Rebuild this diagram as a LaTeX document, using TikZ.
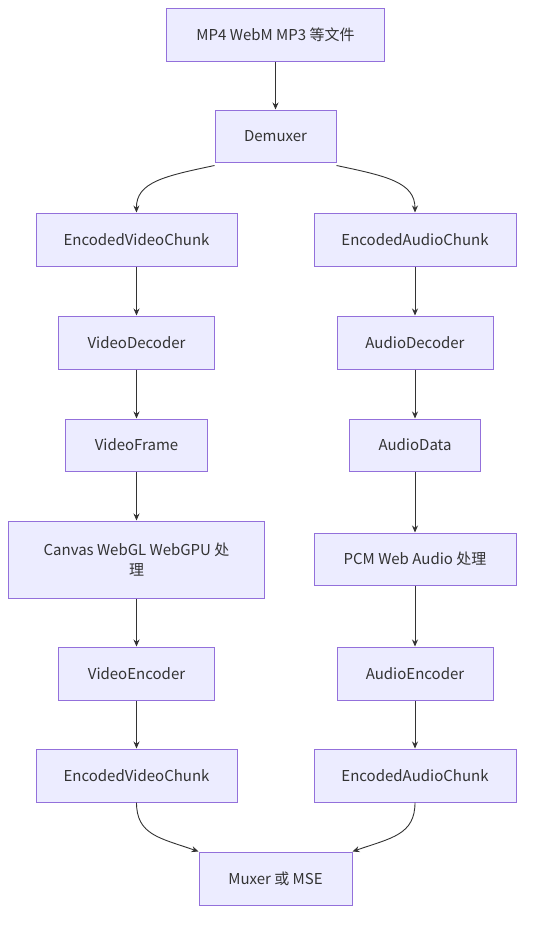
\documentclass[tikz,border=0pt]{standalone}
\usepackage{fontspec}
\setmainfont{Noto Sans CJK SC}
\usetikzlibrary{arrows.meta}
\definecolor{boxfill}{HTML}{ECECFF}
\definecolor{boxline}{HTML}{9370DB}
\definecolor{txt}{HTML}{333333}
\begin{document}
\begin{tikzpicture}[x=1pt,y=-1pt,
  box/.style={draw=boxline,fill=boxfill,line width=1pt,minimum height=53pt,inner sep=0pt,
    text=txt,font=\fontsize{15}{20}\selectfont,align=center},
  conn/.style={draw=txt,line width=0.9pt,-{Stealth[length=7pt,width=6pt]}}]
\useasboundingbox (0,0) rectangle (533,926);
\node[box,minimum width=218pt] (src) at (275.5,34.5) {MP4 WebM MP3 等文件};
\node[box,minimum width=121pt,minimum height=52pt] (dem) at (275.5,136) {Demuxer};
\node[box,minimum width=201pt] (evc1) at (136.5,239.5) {EncodedVideoChunk};
\node[box,minimum width=202pt] (eac1) at (415,239.5) {EncodedAudioChunk};
\node[box,minimum width=156pt] (vdec) at (136.5,342.5) {VideoDecoder};
\node[box,minimum width=156pt] (adec) at (415,342.5) {AudioDecoder};
\node[box,minimum width=142pt,minimum height=52pt] (vf) at (136.5,445) {VideoFrame};
\node[box,minimum width=131pt,minimum height=52pt] (ad) at (415,445) {AudioData};
\node[box,minimum width=256pt,minimum height=77pt] (cv) at (136.5,559.5) {Canvas WebGL WebGPU 处\\理};
\node[box,minimum width=202pt,minimum height=52pt] (pcm) at (415,559) {PCM Web Audio 处理};
\node[box,minimum width=156pt] (venc) at (136.5,673.5) {VideoEncoder};
\node[box,minimum width=156pt] (aenc) at (415,673.5) {AudioEncoder};
\node[box,minimum width=201pt] (evc2) at (136.5,775.5) {EncodedVideoChunk};
\node[box,minimum width=202pt] (eac2) at (415,775.5) {EncodedAudioChunk};
\node[box,minimum width=153pt] (mux) at (275.5,878.5) {Muxer 或 MSE};

\draw[conn] (src) -- (dem);
\draw[conn] ([yshift=-3pt]dem.south west) .. controls (165,176) and (136,182) .. (evc1.north);
\draw[conn] ([yshift=-3pt]dem.south east) .. controls (386,176) and (415,182) .. (eac1.north);
\draw[conn] (evc1) -- (vdec);
\draw[conn] (eac1) -- (adec);
\draw[conn] (vdec) -- (vf);
\draw[conn] (adec) -- (ad);
\draw[conn] (vf) -- (cv);
\draw[conn] (ad) -- (pcm);
\draw[conn] (cv) -- (venc);
\draw[conn] (pcm) -- (aenc);
\draw[conn] (venc) -- (evc2);
\draw[conn] (aenc) -- (eac2);
\draw[conn] (evc2.south) .. controls (136.5,835) and (160,838) .. (mux.north west);
\draw[conn] (eac2.south) .. controls (415,835) and (391,838) .. (mux.north east);
\end{tikzpicture}
\end{document}
